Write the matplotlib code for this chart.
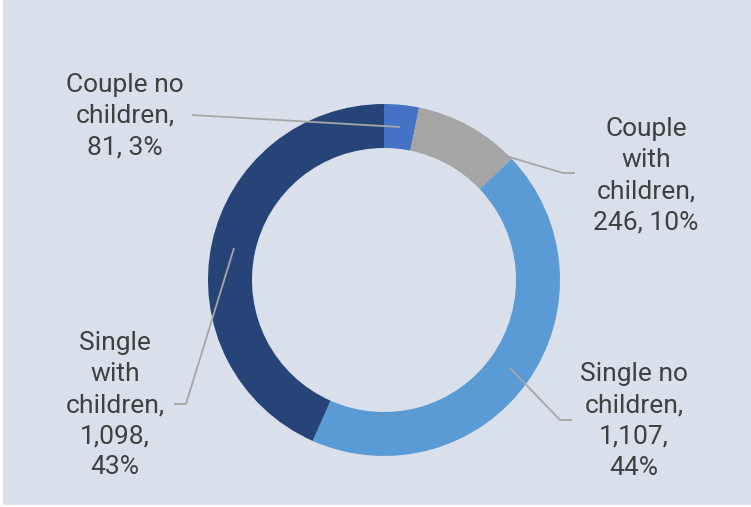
import matplotlib
matplotlib.use("Agg")
import matplotlib.pyplot as plt
from matplotlib.patches import Rectangle

categories = ["Couple no children", "Couple with children", "Single no children", "Single with children"]
values = [81, 246, 1107, 1098]
percents = ["3%", "10%", "44%", "43%"]
labels = ["Couple no\nchildren,\n81, 3%",
          "Couple\nwith\nchildren,\n246, 10%",
          "Single no\nchildren,\n1,107,\n44%",
          "Single\nwith\nchildren,\n1,098,\n43%"]
colors = ["#4472C4", "#A5A5A5", "#5B9BD5", "#264478"]

W, H = 751, 507
fig = plt.figure(figsize=(W / 100, H / 100), dpi=100, facecolor="white")
ax = fig.add_axes([0, 0, 1, 1])
ax.set_axis_off()
bg = "#DAE0EB"
fig.patches.append(Rectangle((3 / W, 2 / H), 1 - 3 / W, 1 - 2 / H, transform=fig.transFigure,
                             facecolor=bg, edgecolor="none", zorder=-10))

cx, cy = 384, H - 280
R = 176
ax.pie(values, colors=colors, startangle=90, counterclock=False,
       center=(cx, cy), radius=R, wedgeprops=dict(width=44, edgecolor="none"))
ax.set_xlim(0, W)
ax.set_ylim(0, H)
ax.set_aspect("equal")

font = dict(family=["Roboto", "DejaVu Sans"], fontsize=19, color="#404040",
            ha="center", va="center", linespacing=1.38, multialignment="center")

def Y(y):
    return H - y

label_pos = [(125, 116), (646, 176), (634, 421), (115, 405)]
for lab, (x, y) in zip(labels, label_pos):
    ax.text(x, Y(y), lab, **font)

line_col = "#A6A6A6"
leaders = [
    [(192, 115), (400, 127)],
    [(506, 156), (563, 173), (575, 173)],
    [(510, 368), (560, 420), (572, 420)],
    [(234, 248), (186, 404), (174, 404)],
]
for pts in leaders:
    xs = [p[0] for p in pts]
    ys = [Y(p[1]) for p in pts]
    ax.plot(xs, ys, color=line_col, lw=1.3, solid_capstyle="butt", zorder=5)

fig.savefig("out.png", dpi=100, facecolor="white")
